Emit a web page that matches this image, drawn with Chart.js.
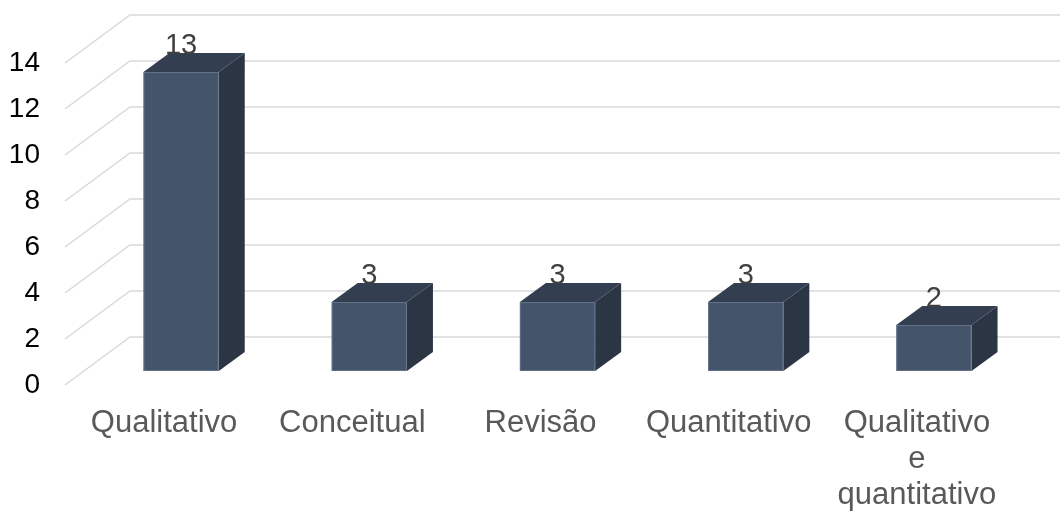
<!DOCTYPE html>
<html>
<head>
<meta charset="utf-8">
<script src="https://cdn.jsdelivr.net/npm/chart.js@4"></script>
<style>
  html, body { margin: 0; padding: 0; background: #fff; }
  #wrap { width: 1062px; height: 512px; }
</style>
</head>
<body>
<div id="wrap"><canvas id="myChart"></canvas></div>
<script>
// data
let categories = ['Qualitativo', 'Conceitual', 'Revisão', 'Quantitativo', ['Qualitativo', 'e', 'quantitativo']];
let values = [13, 3, 3, 3, 2];
let yTicks = [0, 2, 4, 6, 8, 10, 12, 14];

// oblique 3d look, in pixels
const wallDX = 65, wallDY = 48;   // floor depth (front -> back wall)
const barShiftX = 17, barShiftY = 14; // bar front face sits this far into the floor
const barDX = 26, barDY = 19;     // depth of each box

const fontFamily = "'Liberation Sans', Arial, sans-serif";

const wall3d = {
  id: 'wall3d',
  beforeDatasetsDraw(chart) {
    const ctx = chart.ctx;
    const y = chart.scales.y;
    const left = chart.chartArea.left;
    ctx.save();
    ctx.strokeStyle = '#d9d9d9';
    ctx.lineWidth = 1.5;
    y.ticks.forEach(t => {
      const py = y.getPixelForValue(t.value);
      ctx.beginPath();
      ctx.moveTo(left - 5, py);
      ctx.lineTo(left - 5 + wallDX, py - wallDY);
      ctx.lineTo(chart.width - 2, py - wallDY);
      ctx.stroke();
    });
    ctx.restore();
  },
  afterDatasetsDraw(chart) {
    const ctx = chart.ctx;
    const meta = chart.getDatasetMeta(0);
    ctx.save();
    meta.data.forEach((bar, i) => {
      const w = bar.width;
      const x0 = bar.x - w / 2 + barShiftX;
      const x1 = x0 + w;
      const yb = bar.base - barShiftY;
      const yt = bar.y - barShiftY;

      // side face
      ctx.fillStyle = '#2b3544';
      ctx.beginPath();
      ctx.moveTo(x1, yt);
      ctx.lineTo(x1 + barDX, yt - barDY);
      ctx.lineTo(x1 + barDX, yb - barDY);
      ctx.lineTo(x1, yb);
      ctx.closePath();
      ctx.fill();

      // top face
      ctx.fillStyle = '#333f50';
      ctx.beginPath();
      ctx.moveTo(x0, yt);
      ctx.lineTo(x0 + barDX, yt - barDY);
      ctx.lineTo(x1 + barDX, yt - barDY);
      ctx.lineTo(x1, yt);
      ctx.closePath();
      ctx.fill();

      // front face
      ctx.fillStyle = '#44546a';
      ctx.fillRect(x0, yt, w, yb - yt);
      ctx.strokeStyle = 'rgba(120,135,155,0.6)';
      ctx.lineWidth = 1;
      ctx.strokeRect(x0 + 0.5, yt + 0.5, w - 1, yb - yt - 1);

      // value label, sitting on the back edge of the top face
      ctx.fillStyle = '#404040';
      ctx.font = '29px ' + fontFamily;
      ctx.textAlign = 'center';
      ctx.textBaseline = 'alphabetic';
      ctx.fillText(String(values[i]), x0 + w / 2, yt - barDY + 1);
    });
    ctx.restore();
  }
};

const ctx = document.getElementById('myChart').getContext('2d');
new Chart(ctx, {
  type: 'bar',
  data: {
    labels: categories,
    datasets: [{
      data: values,
      backgroundColor: 'rgba(0,0,0,0)',
      borderWidth: 0,
      barPercentage: 0.4,
      categoryPercentage: 1
    }]
  },
  options: {
    responsive: true,
    maintainAspectRatio: false,
    animation: false,
    layout: { padding: { top: 63, right: 51, left: 0, bottom: 0 } },
    plugins: {
      legend: { display: false },
      tooltip: { enabled: false }
    },
    scales: {
      x: {
        grid: { display: false, drawTicks: false },
        border: { display: false },
        ticks: {
          color: '#595959',
          padding: 20,
          maxRotation: 0,
          autoSkip: false,
          font: { family: fontFamily, size: 31, lineHeight: 1.17 }
        },
        afterFit(scale) { scale.height = 127; }
      },
      y: {
        min: 0,
        max: 14,
        grid: { display: false, drawTicks: false },
        border: { display: false },
        afterBuildTicks(scale) { scale.ticks = yTicks.map(v => ({ value: v })); },
        ticks: {
          color: '#000',
          padding: 30,
          font: { family: fontFamily, size: 28 }
        },
        afterFit(scale) { scale.width = 70; }
      }
    }
  },
  plugins: [wall3d]
});
</script>
</body>
</html>
